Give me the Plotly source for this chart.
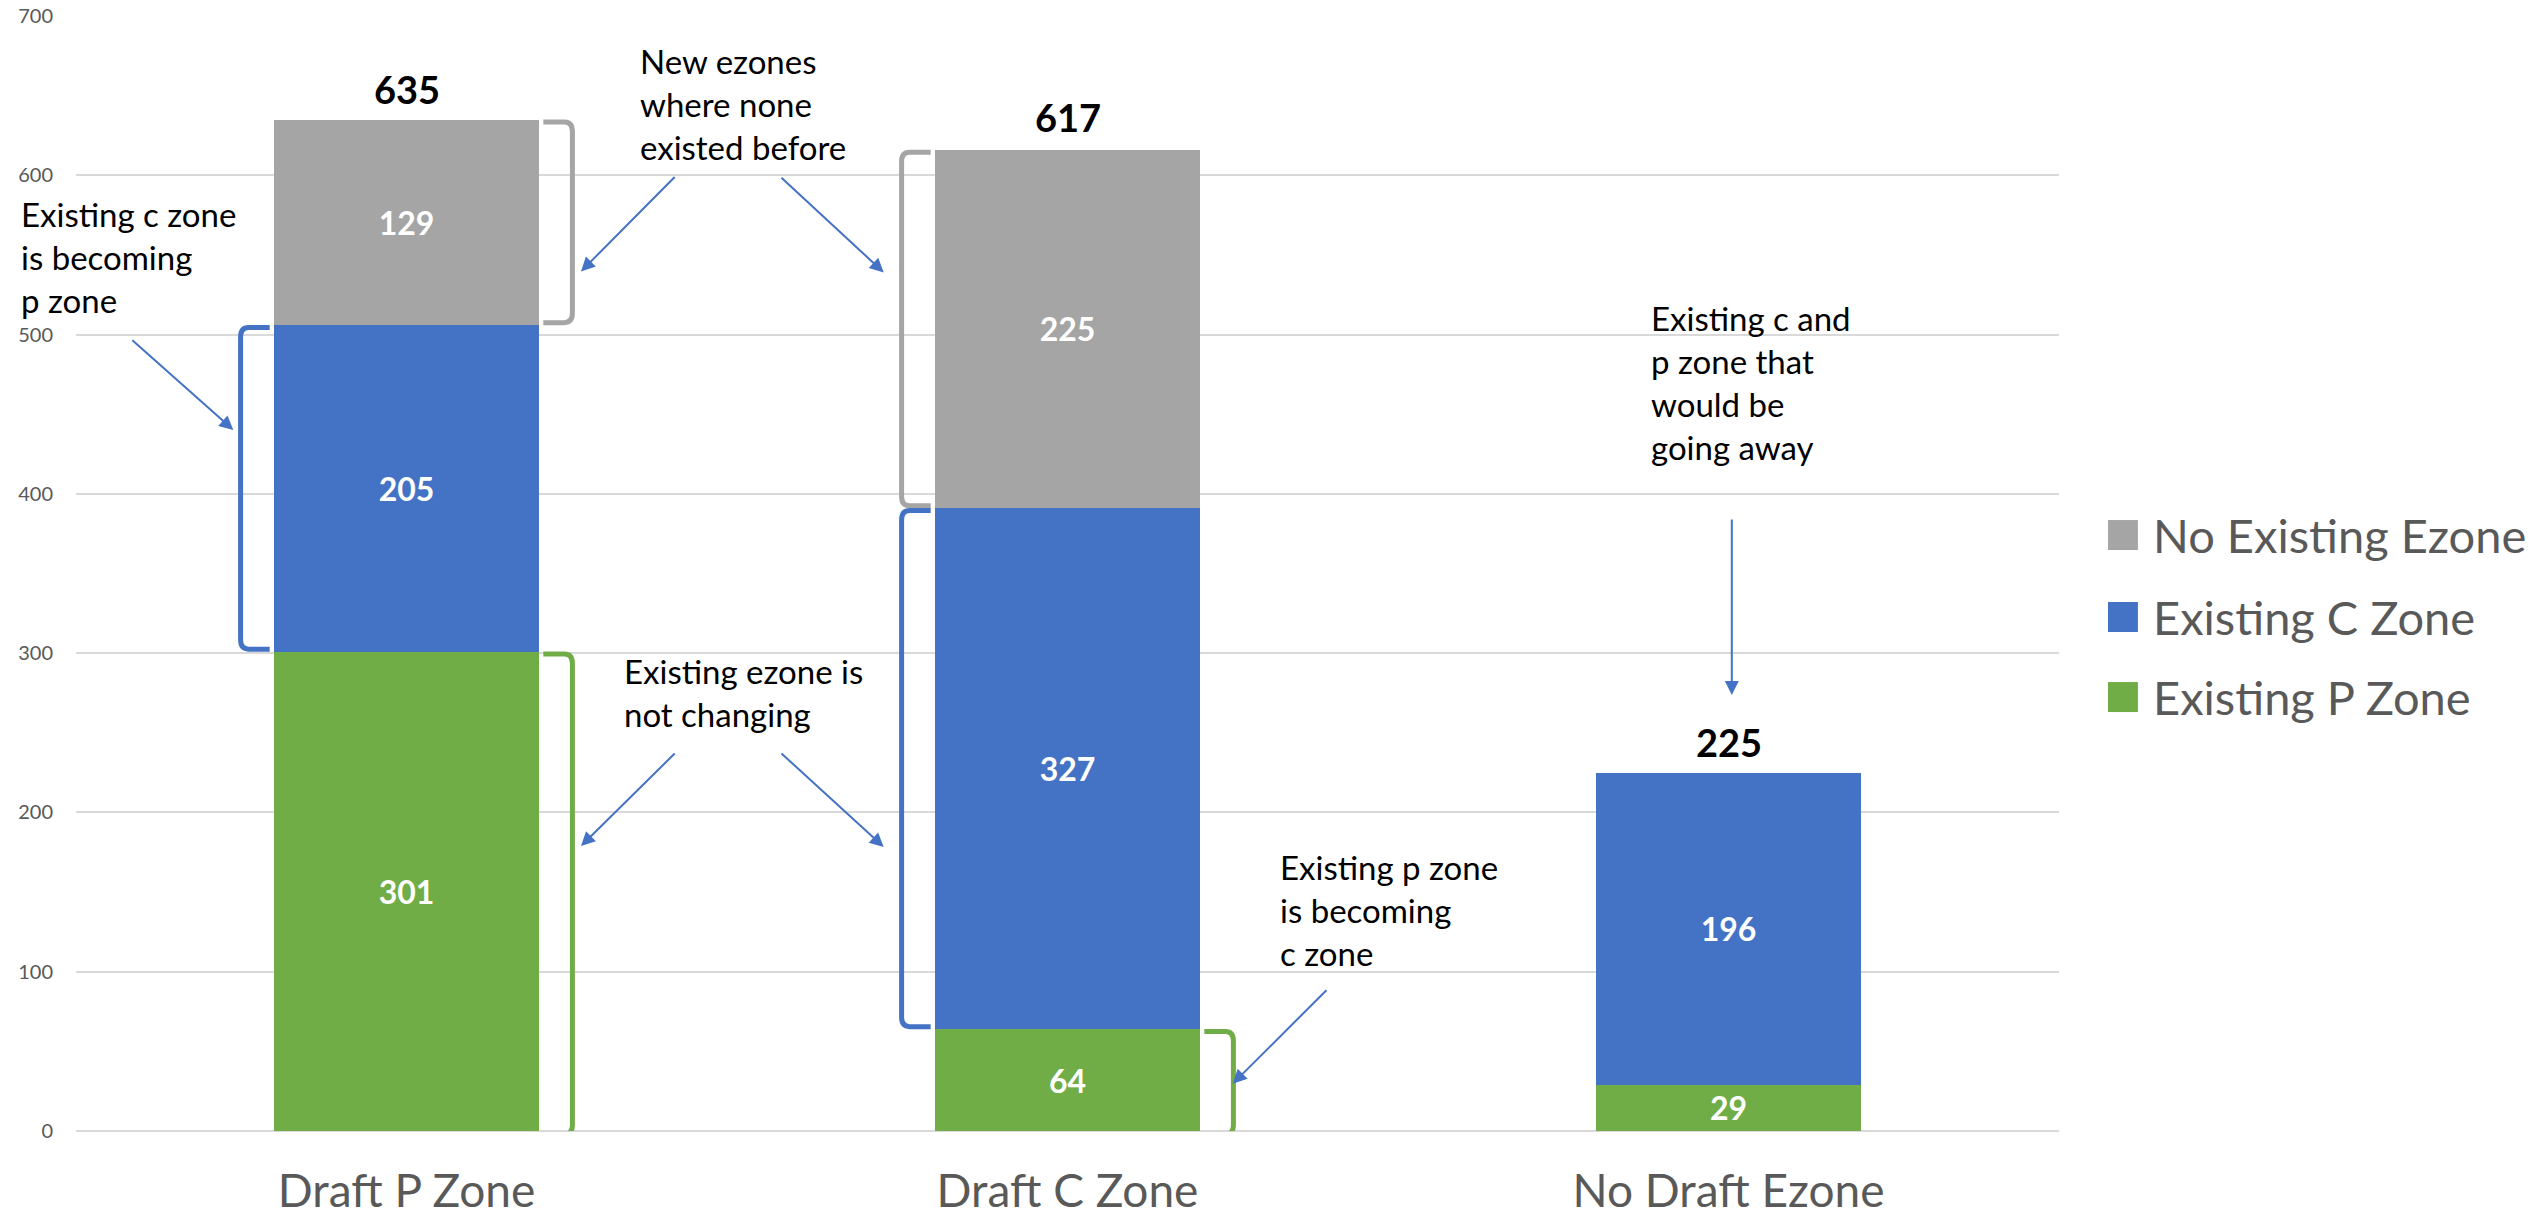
import plotly.graph_objects as go

# ---------------- data ----------------
categories = ["Draft P Zone", "Draft C Zone", "No Draft Ezone"]
series_names = ["Existing P Zone", "Existing C Zone", "No Existing Ezone"]
existing_p = [301, 64, 29]
existing_c = [205, 327, 196]
no_existing = [129, 225, None]
totals = [635, 617, 225]
y_ticks = [0, 100, 200, 300, 400, 500, 600, 700]

series_values = [existing_p, existing_c, no_existing]
series_colors = ["#70AD47", "#4472C4", "#A5A5A5"]

FONT = "Lato"
GREY_TXT = "#595959"
ARROW = "#4472C4"

fig = go.Figure()
for name, vals, col in zip(series_names, series_values, series_colors):
    fig.add_trace(go.Bar(
        x=categories, y=vals, name=name,
        marker=dict(color=col, line=dict(width=0)),
        text=["" if v is None else str(v) for v in vals],
        textposition="inside", insidetextanchor="middle",
        textfont=dict(family=FONT, size=32, color="white", weight="bold"),
        hoverinfo="skip", showlegend=False,
    ))

annotations = []
shapes = []

# totals above bars
for cat, t in zip(categories, totals):
    annotations.append(dict(x=cat, y=t, xref="x", yref="y", text=f"<b>{t}</b>",
                            showarrow=False, yanchor="middle", yshift=31,
                            font=dict(family=FONT, size=38, color="black")))

# brackets around segments, derived from stacked values
def seg_bounds(ci, si):
    base = sum((series_values[k][ci] or 0) for k in range(si))
    return base, base + (series_values[si][ci] or 0)

bracket_specs = [  # (category index, series index, side)
    (0, 2, 1), (0, 1, -1), (0, 0, 1),
    (1, 2, -1), (1, 1, -1), (1, 0, 1),
]
for ci, si, side in bracket_specs:
    y0, y1 = seg_bounds(ci, si)
    y0 = y0 + 1.5 if y0 > 0 else -2
    y1 = y1 - 1.5
    xv = ci + side * 0.251
    xt = ci + side * 0.207
    r, ry = 0.012, 6
    path = (f"M{xt},{y1} L{xv - side * r},{y1} Q{xv},{y1} {xv},{y1 - ry} "
            f"L{xv},{y0 + ry} Q{xv},{y0} {xv - side * r},{y0} L{xt},{y0}")
    shapes.append(dict(type="path", xref="x", yref="y", path=path,
                       line=dict(color=series_colors[si], width=5)))

# callout texts (xref, x, y)
notes = [
    ("New ezones<br>where none<br>existed before", "x", 0.350, 645.0),
    ("Existing c zone<br>is becoming<br>p zone", "paper", -0.0285, 548.6),
    ("Existing ezone is<br>not changing", "x", 0.326, 275.5),
    ("Existing p zone<br>is becoming<br>c zone", "x", 1.318, 138.5),
    ("Existing c and<br>p zone that<br>would be<br>going away", "x", 1.880, 470.0),
]
for txt, xr, x, y in notes:
    annotations.append(dict(x=x, y=y, xref=xr, yref="y", text=txt, showarrow=False,
                            xanchor="left", yanchor="middle", align="left",
                            font=dict(family=FONT, size=33, color="black")))

# arrows (tail -> head)
arrows = [
    ((0.408, 599.9), (0.264, 539.6)),
    ((0.565, 599.3), (0.722, 539.0)),
    ((-0.417, 497.2), (-0.262, 440.1)),
    ((0.408, 237.9), (0.264, 178.9)),
    ((0.565, 237.9), (0.722, 178.3)),
    ((1.394, 89.3), (1.250, 29.7)),
    ((2.005, 384.8), (2.005, 273.7)),
]
for (tx, ty), (hx, hy) in arrows:
    annotations.append(dict(x=hx, y=hy, ax=tx, ay=ty, xref="x", yref="y",
                            axref="x", ayref="y", text="", showarrow=True,
                            arrowhead=2, arrowsize=1.4, arrowwidth=2,
                            arrowcolor=ARROW, standoff=0, startstandoff=0))

# manual legend (large squares like the original)
legend_y = [0.5345, 0.4610, 0.3892]
for (name, col), yc in zip(list(zip(series_names, series_colors))[::-1], legend_y):
    shapes.append(dict(type="rect", xref="paper", yref="paper",
                       x0=1.0247, x1=1.0398, y0=yc - 0.01345, y1=yc + 0.01345,
                       fillcolor=col, line=dict(width=0)))
    annotations.append(dict(x=1.0465, y=yc, xref="paper", yref="paper", text=name,
                            showarrow=False, xanchor="left", yanchor="middle",
                            font=dict(family=FONT, size=47, color=GREY_TXT)))

fig.update_layout(
    barmode="stack", bargap=0.6,
    width=2544, height=1221,
    margin=dict(l=76, r=485, t=16, b=90, autoexpand=False),
    plot_bgcolor="white", paper_bgcolor="white",
    showlegend=False,
    shapes=shapes, annotations=annotations,
    font=dict(family=FONT, color=GREY_TXT),
)
fig.update_xaxes(type="category", range=[-0.5, 2.5], showgrid=False, zeroline=False,
                 showline=False, ticks="", ticklabelstandoff=29, automargin=False,
                 tickfont=dict(family=FONT, size=46, color=GREY_TXT))
fig.update_yaxes(range=[0, 700], tickvals=y_ticks, showgrid=True, gridcolor="#D9D9D9",
                 gridwidth=2, zeroline=True, zerolinecolor="#D9D9D9", zerolinewidth=2,
                 showline=False, ticks="", ticklabelstandoff=22, automargin=False,
                 tickfont=dict(family=FONT, size=20, color=GREY_TXT))

fig.write_html("out.html", config={"displayModeBar": False},
               post_script="document.body.style.margin='0';document.body.style.overflow='hidden';")
